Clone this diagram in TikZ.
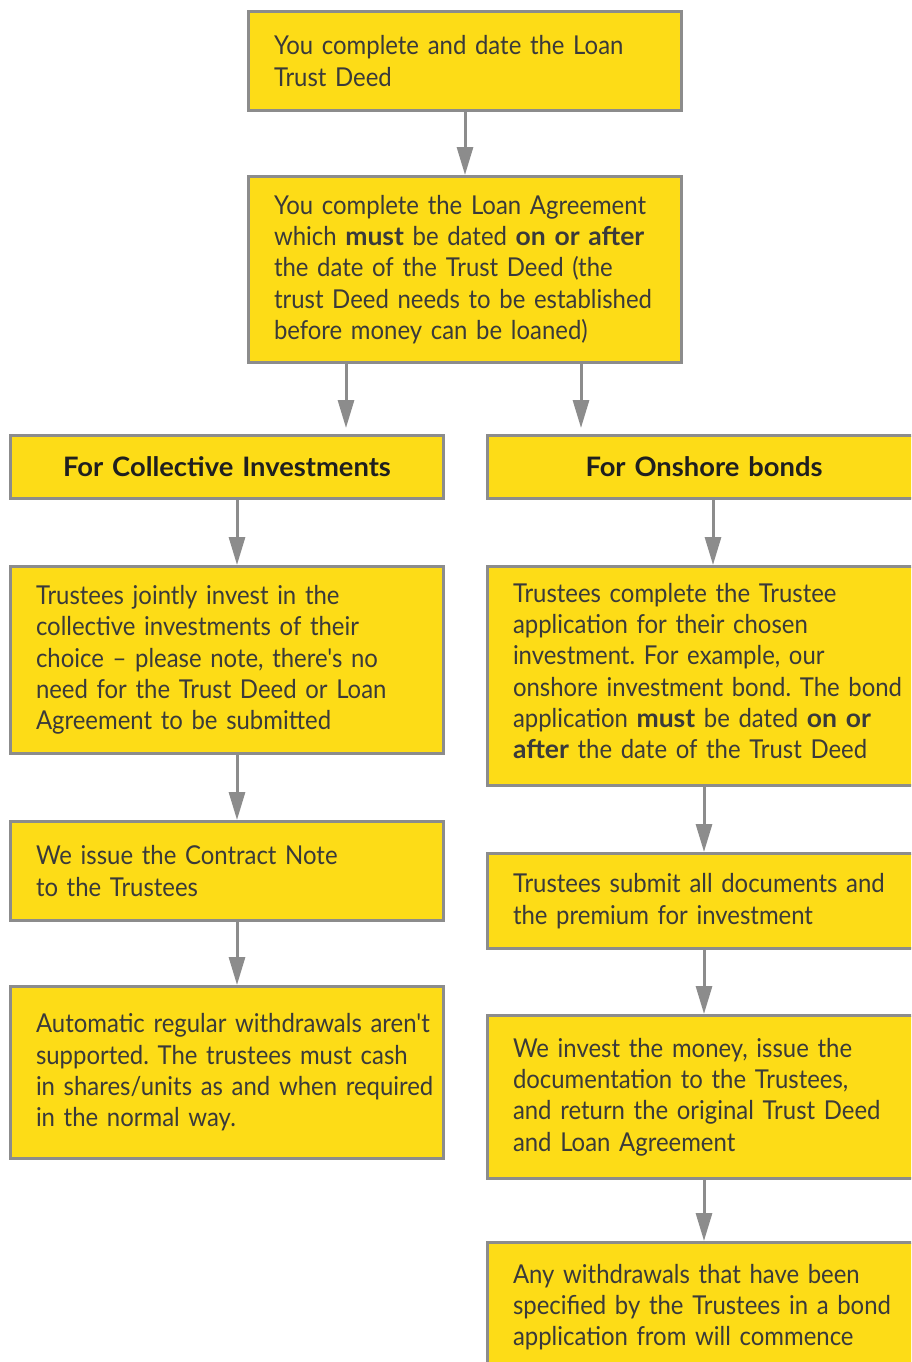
\documentclass[tikz,border=0pt]{standalone}
\usepackage{fontspec}
\setmainfont{Lato}[Ligatures=TeXOff, FakeStretch=0.92, BoldFeatures={FakeStretch=1.02}]
\usepackage{tikz}
\usetikzlibrary{positioning, arrows.meta}

\definecolor{boxyellow}{HTML}{FDDC17}
\definecolor{boxgray}{HTML}{8C8C8C}
\definecolor{textgray}{HTML}{3A3A3A}

\frenchspacing

\tikzset{
  boxbase/.style={draw=boxgray, fill=boxyellow, line width=3pt, inner sep=0pt,
    minimum width=433pt, text width=433pt},
  stepbox/.style={boxbase, align=left, text=textgray,
    font=\fontsize{26}{31.3}\selectfont,
    execute at begin node={\leftskip=25.5pt}},
  headbox/.style={boxbase, align=center, text=black!88,
    font=\fontsize{26.8}{31.3}\selectfont\bfseries},
  flow/.style={draw=boxgray, line width=3pt, -{Triangle[length=28pt,width=16pt]}}
}

\begin{document}
\begin{tikzpicture}[x=1pt,y=-1pt]
    \useasboundingbox (0,0) rectangle (911,1362);
    \clip (0,0) rectangle (911,1362);
    \fill[white] (0,0) rectangle (911,1362);

    % top
    \node[stepbox, minimum height=99pt, anchor=north west] (deed) at (247,10)
        {You complete and date the Loan\\Trust Deed};
    \node[stepbox, minimum height=186pt, below=63pt of deed] (agreement)
        {You complete the Loan Agreement\\which \textbf{must} be dated \textbf{on or after}\\the date of the Trust Deed (the\\trust Deed needs to be established\\before money can be loaned)};

    % collective investments
    \node[headbox, minimum height=63pt, anchor=north west] (collective) at (9,434)
        {For Collective Investments};
    \node[stepbox, minimum height=187pt, below=65pt of collective] (jointly)
        {Trustees jointly invest in the\\collective investments of their\\choice – please note, there's no\\need for the Trust Deed or Loan\\Agreement to be submitted};
    \node[stepbox, minimum height=99pt, below=65pt of jointly] (contract)
        {We issue the Contract Note\\to the Trustees};
    \node[stepbox, minimum height=172pt, below=63pt of contract] (cashin)
        {Automatic regular withdrawals aren't\\supported. The trustees must cash\\in shares/units as and when required\\in the normal way.};

    % onshore bonds
    \node[headbox, minimum height=63pt, anchor=north west] (onshore) at (486,434)
        {For Onshore bonds};
    \node[stepbox, minimum height=219pt, below=65pt of onshore] (application)
        {Trustees complete the Trustee\\application for their chosen\\investment. For example, our\\onshore investment bond. The bond\\application \textbf{must} be dated \textbf{on or}\\\textbf{after} the date of the Trust Deed\rule[-10pt]{0pt}{0pt}};
    \node[stepbox, minimum height=95pt, below=65pt of application] (submit)
        {Trustees submit all documents and\\the premium for investment};
    \node[stepbox, minimum height=163pt, below=64pt of submit] (invest)
        {We invest the money, issue the\\documentation to the Trustees,\\and return the original Trust Deed\\and Loan Agreement};
    \node[stepbox, minimum height=129pt, below=61pt of invest] (commence)
        {Any withdrawals that have been\\specified by the Trustees in a bond\\application from will commence};

    \draw[flow] (deed) -- (agreement);
    \draw[flow, shorten >=6pt] ([xshift=-119pt]agreement.south) -- ([xshift=-119pt]agreement.south |- collective.north);
    \draw[flow, shorten >=6pt] ([xshift=116pt]agreement.south) -- ([xshift=116pt]agreement.south |- onshore.north);

    \draw[flow] ([xshift=10pt]collective.south) -- ([xshift=10pt]jointly.north);
    \draw[flow] ([xshift=10pt]jointly.south) -- ([xshift=10pt]contract.north);
    \draw[flow] ([xshift=10pt]contract.south) -- ([xshift=10pt]cashin.north);

    \draw[flow] ([xshift=9pt]onshore.south) -- ([xshift=9pt]application.north);
    \draw[flow] (application) -- (submit);
    \draw[flow] (submit) -- (invest);
    \draw[flow] (invest) -- (commence);
\end{tikzpicture}
\end{document}
